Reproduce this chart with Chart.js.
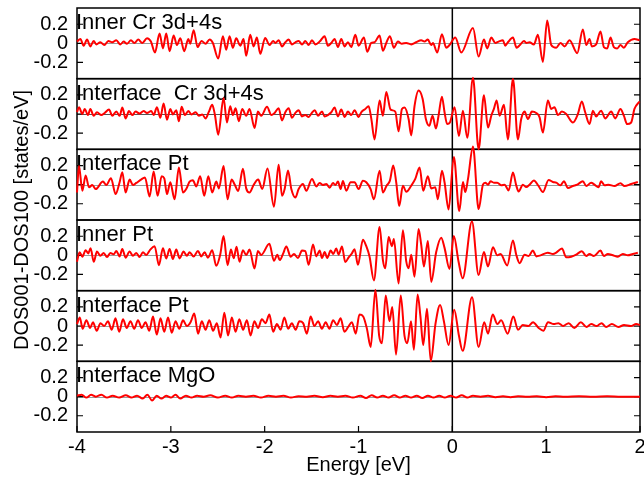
<!DOCTYPE html>
<html>
<head>
<meta charset="utf-8">
<script src="https://cdn.jsdelivr.net/npm/chart.js@4.4.1/dist/chart.umd.min.js"></script>
<style>
html, body { margin: 0; padding: 0; background: #fff; }
canvas { display: block; }
</style>
</head>
<body>
<canvas id="dosChart" width="644" height="477"></canvas>
<script>
// DOS001 - DOS100 difference, one panel per layer, [energy eV, states/eV]
const innerCr = [
  [-4.0,0.018],[-3.964,0.046],[-3.929,-0.025],[-3.893,0.039],[-3.858,-0.032],[-3.822,0.025],[-3.794,-0.011],[-3.751,0.011],[-3.709,-0.018],[-3.666,0.025],
  [-3.624,0.011],[-3.581,0.032],[-3.538,-0.011],[-3.503,0.018],[-3.467,-0.004],[-3.425,0.032],[-3.389,0.004],[-3.347,0.039],[-3.304,0.004],[-3.254,0.053],
  [-3.212,0.018],[-3.169,-0.096],[-3.120,0.103],[-3.084,-0.053],[-3.049,0.103],[-3.013,-0.082],[-2.970,0.082],[-2.935,-0.018],[-2.899,0.053],[-2.857,-0.082],
  [-2.814,0.046],[-2.793,-0.004],[-2.757,0.138],[-2.715,-0.039],[-2.672,0.025],[-2.630,-0.004],[-2.587,0.039],[-2.552,0.004],[-2.495,-0.160],[-2.445,0.075],
  [-2.410,-0.067],[-2.374,0.075],[-2.339,-0.046],[-2.303,0.053],[-2.260,-0.025],[-2.225,0.046],[-2.197,-0.131],[-2.154,0.089],[-2.118,-0.032],[-2.083,0.060],
  [-2.047,-0.110],[-1.995,0.055],[-1.947,-0.018],[-1.911,0.025],[-1.886,0.004],[-1.851,0.032],[-1.815,-0.032],[-1.780,0.011],[-1.744,0.039],[-1.709,-0.011],
  [-1.673,0.011],[-1.638,0.025],[-1.602,-0.011],[-1.567,0.025],[-1.531,-0.018],[-1.496,0.032],[-1.460,-0.011],[-1.414,0.018],[-1.361,0.075],[-1.326,-0.025],
  [-1.290,0.004],[-1.255,0.046],[-1.219,-0.039],[-1.184,0.046],[-1.148,-0.032],[-1.113,0.011],[-1.077,-0.039],[-1.034,0.089],[-0.999,-0.025],[-0.942,0.060],
  [-0.907,-0.089],[-0.864,0.004],[-0.829,0.011],[-0.775,0.082],[-0.740,-0.078],[-0.704,0.004],[-0.665,0.075],[-0.623,-0.046],[-0.580,0.018],[-0.537,-0.004],
  [-0.491,0.004],[-0.438,-0.011],[-0.385,0.011],[-0.332,0.032],[-0.296,0.018],[-0.261,0.039],[-0.225,-0.018],[-0.207,0.004],[-0.161,-0.096],[-0.111,0.096],
  [-0.065,-0.046],[-0.030,-0.018],[0.031,0.060],[0.095,-0.096],[0.220,0.160],[0.280,-0.138],[0.337,0.039],[0.372,-0.053],[0.415,0.060],[0.458,0.004],
  [0.493,0.018],[0.539,0.032],[0.564,-0.025],[0.592,0.011],[0.646,0.060],[0.685,-0.046],[0.720,-0.018],[0.763,0.025],[0.788,0.004],[0.823,0.011],
  [0.869,-0.011],[0.912,0.089],[0.965,-0.195],[1.011,0.238],[1.054,-0.018],[1.107,-0.046],[1.153,0.004],[1.196,-0.032],[1.249,0.032],[1.331,-0.103],
  [1.391,0.146],[1.427,-0.018],[1.462,0.046],[1.487,-0.032],[1.533,-0.011],[1.579,0.124],[1.615,-0.039],[1.650,-0.053],[1.686,0.060],[1.721,-0.039],
  [1.757,-0.053],[1.792,-0.018],[1.828,-0.046],[1.870,0.011],[1.941,0.046],[1.995,0.032]
];
const interfaceCr = [
  [-4.0,0.02],[-3.979,0.071],[-3.943,0.0],[-3.918,0.053],[-3.883,-0.011],[-3.858,0.053],[-3.822,-0.018],[-3.787,0.018],[-3.741,-0.011],[-3.705,0.011],
  [-3.659,0.046],[-3.624,-0.018],[-3.581,0.025],[-3.546,-0.018],[-3.517,0.067],[-3.482,-0.046],[-3.446,0.032],[-3.411,-0.011],[-3.375,0.025],[-3.333,0.004],
  [-3.290,0.032],[-3.254,0.011],[-3.208,0.032],[-3.183,-0.011],[-3.148,0.071],[-3.112,-0.039],[-3.077,0.110],[-3.041,-0.060],[-3.006,0.053],[-2.978,-0.004],
  [-2.942,0.039],[-2.914,-0.075],[-2.885,0.075],[-2.850,-0.011],[-2.814,0.032],[-2.779,-0.004],[-2.736,0.018],[-2.701,-0.018],[-2.665,-0.004],[-2.630,-0.046],
  [-2.594,0.025],[-2.559,0.096],[-2.530,-0.011],[-2.495,-0.217],[-2.438,0.167],[-2.402,-0.089],[-2.367,0.082],[-2.339,-0.011],[-2.310,0.060],[-2.275,-0.075],
  [-2.239,0.053],[-2.197,-0.018],[-2.161,0.053],[-2.108,-0.146],[-2.072,0.025],[-2.037,-0.018],[-1.975,0.075],[-1.929,-0.011],[-1.894,0.011],[-1.851,0.060],
  [-1.815,-0.067],[-1.780,0.018],[-1.744,0.060],[-1.709,-0.039],[-1.673,0.011],[-1.638,0.039],[-1.602,-0.025],[-1.567,-0.011],[-1.531,-0.032],[-1.503,0.004],
  [-1.467,0.039],[-1.432,-0.018],[-1.389,0.025],[-1.361,-0.025],[-1.326,-0.011],[-1.290,0.018],[-1.255,0.067],[-1.219,-0.025],[-1.184,0.046],[-1.148,-0.032],
  [-1.113,0.025],[-1.077,-0.011],[-1.042,0.039],[-0.999,-0.032],[-0.971,0.018],[-0.928,0.053],[-0.892,0.082],[-0.864,-0.046],[-0.829,-0.266],[-0.775,0.142],
  [-0.740,-0.018],[-0.704,0.231],[-0.658,0.046],[-0.608,0.025],[-0.573,-0.181],[-0.537,0.053],[-0.509,0.067],[-0.466,-0.053],[-0.438,-0.224],[-0.403,0.082],
  [-0.360,0.245],[-0.317,0.160],[-0.282,-0.053],[-0.246,-0.124],[-0.211,-0.018],[-0.175,-0.153],[-0.147,-0.018],[-0.111,0.181],[-0.083,0.018],[-0.055,-0.106],
  [-0.026,-0.089],[0.024,0.071],[0.070,-0.231],[0.113,0.035],[0.159,-0.248],[0.220,0.380],[0.280,-0.370],[0.337,0.196],[0.380,-0.142],[0.415,-0.018],
  [0.443,0.053],[0.472,0.142],[0.504,-0.018],[0.550,0.096],[0.592,-0.266],[0.646,0.370],[0.699,-0.266],[0.734,-0.053],[0.770,0.025],[0.805,-0.053],
  [0.848,0.025],[0.894,0.011],[0.930,-0.035],[0.965,-0.195],[1.018,0.142],[1.054,0.053],[1.089,0.071],[1.125,-0.011],[1.168,0.025],[1.214,0.0],
  [1.285,-0.089],[1.338,0.0],[1.380,0.131],[1.416,0.018],[1.462,-0.106],[1.498,0.035],[1.533,-0.025],[1.586,0.035],[1.629,-0.046],[1.693,0.025],
  [1.736,-0.046],[1.792,0.053],[1.828,-0.018],[1.863,-0.106],[1.906,-0.089],[1.941,0.053],[1.995,0.131]
];
const interfacePtTop = [
  [-4.0,-0.082],[-3.979,0.195],[-3.943,-0.064],[-3.908,0.096],[-3.872,-0.028],[-3.837,-0.004],[-3.801,-0.046],[-3.723,0.032],[-3.688,-0.004],[-3.638,0.067],
  [-3.588,-0.099],[-3.546,0.025],[-3.517,0.131],[-3.482,-0.082],[-3.439,0.053],[-3.404,-0.004],[-3.368,0.018],[-3.318,0.053],[-3.276,0.075],[-3.226,-0.124],
  [-3.183,0.138],[-3.141,-0.117],[-3.098,0.089],[-3.070,0.067],[-3.041,-0.099],[-3.006,0.025],[-2.960,-0.153],[-2.914,0.181],[-2.871,-0.082],[-2.836,-0.046],
  [-2.800,0.032],[-2.765,0.046],[-2.729,-0.018],[-2.687,0.089],[-2.644,-0.117],[-2.601,0.089],[-2.559,-0.082],[-2.516,0.032],[-2.488,-0.039],[-2.438,0.195],
  [-2.395,-0.153],[-2.353,0.053],[-2.317,-0.004],[-2.282,-0.067],[-2.232,0.167],[-2.197,-0.039],[-2.161,-0.082],[-2.118,-0.004],[-2.069,0.053],[-2.026,-0.046],
  [-1.970,0.170],[-1.901,-0.231],[-1.851,0.209],[-1.815,-0.117],[-1.787,-0.046],[-1.751,0.149],[-1.716,-0.046],[-1.673,-0.135],[-1.638,-0.046],[-1.592,0.007],
  [-1.556,-0.064],[-1.496,0.060],[-1.450,-0.018],[-1.414,0.018],[-1.379,-0.004],[-1.343,0.007],[-1.308,-0.032],[-1.272,0.018],[-1.247,-0.004],[-1.219,0.032],
  [-1.191,-0.046],[-1.166,0.039],[-1.130,-0.064],[-1.084,0.025],[-1.042,0.025],[-0.999,-0.046],[-0.953,0.042],[-0.917,0.025],[-0.871,-0.046],[-0.836,-0.153],
  [-0.775,0.146],[-0.740,-0.082],[-0.701,-0.011],[-0.665,0.042],[-0.630,0.202],[-0.598,0.025],[-0.566,-0.224],[-0.527,-0.011],[-0.491,-0.075],[-0.438,-0.011],
  [-0.395,0.060],[-0.349,0.181],[-0.310,-0.064],[-0.261,0.089],[-0.225,-0.039],[-0.182,-0.028],[-0.154,-0.153],[-0.111,0.146],[-0.083,0.025],[-0.040,-0.260],
  [0.016,0.291],[0.074,-0.277],[0.113,0.028],[0.138,-0.078],[0.167,0.060],[0.220,0.400],[0.280,-0.256],[0.326,0.0],[0.351,0.021],[0.380,0.0],
  [0.408,0.035],[0.443,0.021],[0.479,0.021],[0.522,-0.007],[0.557,0.0],[0.600,-0.060],[0.646,0.128],[0.681,-0.007],[0.706,-0.071],[0.752,0.0],
  [0.788,-0.025],[0.823,0.0],[0.869,0.043],[0.919,-0.014],[0.965,-0.078],[1.026,0.050],[1.072,0.028],[1.107,0.021],[1.153,-0.007],[1.189,0.035],
  [1.232,-0.035],[1.285,-0.014],[1.331,0.0],[1.391,0.035],[1.427,-0.014],[1.480,0.021],[1.515,0.0],[1.558,-0.028],[1.586,0.035],[1.622,-0.007],
  [1.664,0.0],[1.728,-0.014],[1.792,0.014],[1.835,-0.014],[1.906,0.007],[1.977,0.028]
];
const innerPt = [
  [-4.0,-0.067],[-3.972,0.032],[-3.943,-0.014],[-3.908,0.053],[-3.880,0.020],[-3.855,0.075],[-3.822,-0.067],[-3.787,0.039],[-3.751,-0.004],[-3.716,0.025],
  [-3.680,-0.018],[-3.645,0.025],[-3.609,0.011],[-3.581,0.046],[-3.546,-0.011],[-3.517,0.067],[-3.482,-0.025],[-3.439,0.039],[-3.404,-0.004],[-3.368,0.025],
  [-3.333,-0.018],[-3.297,0.032],[-3.262,0.004],[-3.219,0.060],[-3.173,0.096],[-3.127,-0.103],[-3.084,0.075],[-3.049,-0.032],[-3.013,0.067],[-2.978,-0.039],
  [-2.942,0.060],[-2.907,-0.032],[-2.864,0.039],[-2.829,-0.004],[-2.800,0.032],[-2.757,-0.011],[-2.711,0.046],[-2.676,-0.011],[-2.640,0.032],[-2.605,-0.025],
  [-2.559,0.053],[-2.516,-0.110],[-2.473,0.011],[-2.438,0.202],[-2.395,-0.103],[-2.360,0.060],[-2.330,-0.030],[-2.300,0.090],[-2.268,-0.067],[-2.232,0.053],
  [-2.197,0.004],[-2.161,0.060],[-2.108,-0.138],[-2.072,0.046],[-2.037,0.004],[-1.950,0.120],[-1.901,-0.057],[-1.865,0.007],[-1.840,-0.050],[-1.805,0.014],
  [-1.769,0.092],[-1.723,-0.014],[-1.688,0.014],[-1.645,-0.028],[-1.602,0.050],[-1.567,0.043],[-1.531,-0.099],[-1.485,0.114],[-1.450,-0.011],[-1.414,0.050],
  [-1.389,-0.028],[-1.361,0.035],[-1.333,-0.028],[-1.297,0.050],[-1.269,0.014],[-1.237,0.071],[-1.212,0.007],[-1.176,0.092],[-1.141,-0.071],[-1.105,-0.021],
  [-1.070,0.021],[-1.042,0.064],[-1.006,-0.099],[-0.953,0.163],[-0.917,0.096],[-0.882,-0.014],[-0.836,-0.263],[-0.775,0.298],[-0.740,-0.050],[-0.715,-0.135],
  [-0.679,0.192],[-0.644,0.096],[-0.623,0.170],[-0.573,-0.295],[-0.527,0.263],[-0.491,-0.064],[-0.466,-0.135],[-0.438,0.007],[-0.403,-0.224],[-0.360,0.277],
  [-0.332,0.114],[-0.303,-0.117],[-0.261,0.149],[-0.225,-0.277],[-0.172,0.035],[-0.118,0.185],[-0.083,0.078],[-0.030,-0.142],[0.016,0.202],[0.066,-0.064],
  [0.110,-0.241],[0.209,0.355],[0.280,-0.206],[0.337,0.035],[0.380,-0.117],[0.433,0.085],[0.479,0.0],[0.514,0.014],[0.585,-0.106],[0.646,0.156],
  [0.681,0.007],[0.717,-0.082],[0.770,0.007],[0.813,-0.007],[0.859,0.050],[0.894,-0.011],[0.940,0.0],[1.018,0.028],[1.072,0.014],[1.107,0.028],
  [1.168,0.071],[1.214,-0.021],[1.267,-0.014],[1.320,0.007],[1.380,0.043],[1.427,-0.007],[1.462,0.014],[1.508,-0.007],[1.579,0.050],[1.615,-0.007],
  [1.657,0.014],[1.711,0.0],[1.764,-0.014],[1.817,0.014],[1.870,0.0],[1.924,0.014],[1.977,0.028]
];
const interfacePtBottom = [
  [-4.0,0.02],[-3.97,0.09],[-3.94,-0.03],[-3.90,0.06],[-3.86,-0.02],[-3.83,0.04],[-3.79,-0.05],[-3.75,0.03],[-3.71,0.0],[-3.67,0.05],
  [-3.63,-0.04],[-3.59,0.08],[-3.55,-0.06],[-3.51,0.07],[-3.47,-0.02],[-3.43,0.05],[-3.39,-0.03],[-3.35,0.06],[-3.31,-0.02],[-3.27,0.04],
  [-3.23,-0.05],[-3.19,0.10],[-3.15,-0.09],[-3.11,0.08],[-3.07,-0.06],[-3.03,0.09],[-2.99,-0.07],[-2.95,0.05],[-2.91,-0.03],[-2.87,0.06],
  [-2.83,0.0],[-2.79,0.04],[-2.75,0.13],[-2.71,-0.08],[-2.67,0.05],[-2.63,-0.04],[-2.59,0.06],[-2.55,-0.05],[-2.51,0.03],[-2.47,-0.12],
  [-2.43,0.14],[-2.39,-0.10],[-2.35,0.09],[-2.31,-0.06],[-2.27,0.07],[-2.23,-0.04],[-2.19,0.06],[-2.15,-0.10],[-2.11,0.05],[-2.07,-0.02],
  [-2.03,0.07],[-1.99,0.03],[-1.95,0.12],[-1.91,-0.06],[-1.87,0.02],[-1.83,-0.04],[-1.79,0.09],[-1.75,-0.03],[-1.71,0.03],[-1.67,-0.04],
  [-1.63,0.05],[-1.59,0.03],[-1.55,-0.08],[-1.51,0.10],[-1.47,0.0],[-1.43,0.05],[-1.39,-0.03],[-1.35,0.04],[-1.31,-0.03],[-1.27,0.06],
  [-1.23,0.01],[-1.19,0.08],[-1.15,-0.06],[-1.11,-0.01],[-1.07,0.04],[-1.03,-0.08],[-0.99,0.12],[-0.95,0.10],[-0.91,-0.03],[-0.87,-0.22],
  [-0.82,0.38],[-0.78,-0.10],[-0.75,-0.18],[-0.71,0.32],[-0.67,0.05],[-0.64,0.20],[-0.60,-0.30],[-0.55,0.32],[-0.51,-0.10],[-0.48,-0.18],
  [-0.44,0.05],[-0.41,-0.25],[-0.37,0.33],[-0.34,0.10],[-0.31,-0.20],[-0.27,0.18],[-0.23,-0.37],[-0.18,0.02],[-0.13,0.22],[-0.09,0.05],
  [-0.04,-0.20],[0.02,0.17],[0.07,-0.10],[0.11,-0.26],[0.21,0.30],[0.28,-0.22],[0.34,0.04],[0.38,-0.08],[0.43,0.12],[0.48,0.02],
  [0.52,0.06],[0.59,-0.08],[0.65,0.10],[0.70,-0.04],[0.75,0.01],[0.81,0.0],[0.86,0.04],[0.92,-0.02],[0.97,-0.05],[1.02,0.04],
  [1.08,0.02],[1.13,0.03],[1.18,0.0],[1.24,0.03],[1.30,-0.02],[1.37,0.04],[1.43,-0.01],[1.48,0.02],[1.54,0.0],[1.59,0.03],
  [1.64,-0.01],[1.70,0.02],[1.77,-0.01],[1.83,0.01],[1.90,0.0],[1.96,0.02],[2.0,0.01]
];
const interfaceMgO = [
  [-4.0,0.01],[-3.95,0.02],[-3.90,-0.01],[-3.85,0.02],[-3.80,0.0],[-3.74,0.02],[-3.68,-0.01],[-3.62,0.01],[-3.55,-0.01],[-3.48,0.015],
  [-3.42,-0.01],[-3.36,0.01],[-3.30,-0.02],[-3.25,0.02],[-3.20,-0.04],[-3.15,0.01],[-3.10,-0.02],[-3.05,0.01],[-3.0,-0.01],[-2.95,0.02],
  [-2.90,-0.02],[-2.84,0.01],[-2.78,-0.01],[-2.72,0.01],[-2.65,0.0],[-2.58,0.015],[-2.50,-0.01],[-2.42,0.01],[-2.35,-0.01],[-2.28,0.01],
  [-2.20,0.0],[-2.12,0.01],[-2.04,-0.01],[-1.96,0.01],[-1.88,0.0],[-1.80,0.01],[-1.72,-0.01],[-1.64,0.005],[-1.55,0.0],[-1.47,0.01],
  [-1.38,-0.005],[-1.30,0.01],[-1.22,0.0],[-1.14,0.01],[-1.06,-0.01],[-0.98,0.01],[-0.92,-0.015],[-0.86,0.015],[-0.80,-0.01],[-0.74,0.01],
  [-0.68,-0.01],[-0.62,0.015],[-0.56,-0.01],[-0.50,0.01],[-0.44,-0.01],[-0.38,0.01],[-0.32,-0.015],[-0.26,0.01],[-0.20,-0.01],[-0.14,0.01],
  [-0.08,-0.01],[-0.02,0.01],[0.04,-0.01],[0.10,0.015],[0.16,-0.01],[0.22,0.01],[0.30,0.0],[0.38,0.01],[0.46,-0.005],[0.54,0.005],
  [0.62,-0.005],[0.70,0.005],[0.80,0.0],[0.90,0.005],[1.0,-0.005],[1.10,0.005],[1.20,0.0],[1.35,0.005],[1.50,0.0],[1.65,0.005],
  [1.80,0.0],[2.0,0.0]
];

const panels = [innerCr, interfaceCr, interfacePtTop, innerPt, interfacePtBottom, interfaceMgO];
const panelNames = ['Inner Cr 3d+4s', 'Interface  Cr 3d+4s', 'Interface Pt', 'Inner Pt', 'Interface Pt', 'Interface MgO'];
const yTicks = [-0.2, 0, 0.2];
const xTicks = [-4, -3, -2, -1, 0, 1, 2];

Chart.defaults.font.family = '"Liberation Sans", Arial, sans-serif';
Chart.defaults.color = '#000';

const scales = {
  x: {
    type: 'linear', min: -4, max: 2,
    afterBuildTicks: s => { s.ticks = xTicks.map(v => ({ value: v })); },
    afterFit: s => { s.height = 45; s.paddingLeft = 0; s.paddingRight = 0; },
    ticks: { font: { size: 20 }, padding: 3, maxRotation: 0, autoSkip: false },
    grid: { display: false, drawTicks: false },
    border: { display: false },
    title: { display: true, text: 'Energy [eV]', font: { size: 20 }, padding: { top: 0, bottom: 0 } }
  }
};
// stacked axes are laid out bottom-up, so add the bottom panel first
for (let i = panels.length - 1; i >= 0; i--) {
  scales['y' + i] = {
    type: 'linear', position: 'left', stack: 'dos', stackWeight: 1,
    min: -0.37, max: 0.37,
    afterBuildTicks: s => { s.ticks = yTicks.map(v => ({ value: v })); },
    afterFit: s => { s.width = 77; s.paddingTop = 0; s.paddingBottom = 0; },
    ticks: { font: { size: 20 }, padding: 9, autoSkip: false, callback: v => v === 0 ? '0' : v.toFixed(1) },
    grid: { display: false, drawTicks: false },
    border: { display: false }
  };
}

// panel frames, zero lines, inward ticks, E=0 line and labels
const framePlugin = {
  id: 'frames',
  beforeDatasetsDraw(chart) {
    const { ctx, chartArea: a, scales: sc } = chart;
    ctx.save();
    panels.forEach((p, i) => {
      const s = sc['y' + i];
      const z = Math.round(s.getPixelForValue(0)) + 0.5;
      ctx.strokeStyle = i === 1 ? '#555' : '#9a9a9a';
      ctx.lineWidth = 1;
      ctx.beginPath(); ctx.moveTo(a.left, z); ctx.lineTo(a.right, z); ctx.stroke();
      ctx.strokeStyle = '#000';
      ctx.lineWidth = 1.5;
      ctx.strokeRect(a.left, s.top, a.right - a.left, s.bottom - s.top);
      ctx.lineWidth = 1.2;
      yTicks.forEach(v => {
        const y = s.getPixelForValue(v);
        ctx.beginPath();
        ctx.moveTo(a.left, y); ctx.lineTo(a.left + 6, y);
        ctx.moveTo(a.right, y); ctx.lineTo(a.right - 6, y);
        ctx.stroke();
      });
      ctx.fillStyle = '#000';
      ctx.font = '22px "Liberation Sans", Arial, sans-serif';
      ctx.textAlign = 'left';
      ctx.textBaseline = 'alphabetic';
      ctx.fillText(panelNames[i], a.left - 1, s.top + 21);
    });
    const x0 = sc.x.getPixelForValue(0);
    ctx.lineWidth = 1.5;
    ctx.beginPath(); ctx.moveTo(x0, a.top); ctx.lineTo(x0, a.bottom); ctx.stroke();
    ctx.lineWidth = 1.2;
    xTicks.forEach(v => {
      const x = sc.x.getPixelForValue(v);
      ctx.beginPath(); ctx.moveTo(x, a.bottom); ctx.lineTo(x, a.bottom - 6); ctx.stroke();
    });
    ctx.translate(22, (a.top + a.bottom) / 2);
    ctx.rotate(-Math.PI / 2);
    ctx.font = '20px "Liberation Sans", Arial, sans-serif';
    ctx.textAlign = 'center';
    ctx.textBaseline = 'middle';
    ctx.fillText('DOS001-DOS100 [states/eV]', 0, 0);
    ctx.restore();
  }
};

new Chart(document.getElementById('dosChart'), {
  type: 'line',
  data: {
    datasets: panels.map((p, i) => ({
      label: panelNames[i],
      data: p.map(d => ({ x: d[0], y: d[1] })),
      yAxisID: 'y' + i,
      borderColor: '#ff0000',
      borderWidth: 2,
      pointRadius: 0,
      cubicInterpolationMode: 'monotone',
      fill: false,
      clip: false
    }))
  },
  options: {
    responsive: false,
    animation: false,
    devicePixelRatio: 1,
    layout: { padding: { top: 8, right: 4, left: 0, bottom: 0 } },
    plugins: { legend: { display: false }, tooltip: { enabled: false } },
    scales: scales
  },
  plugins: [framePlugin]
});
</script>
</body>
</html>
